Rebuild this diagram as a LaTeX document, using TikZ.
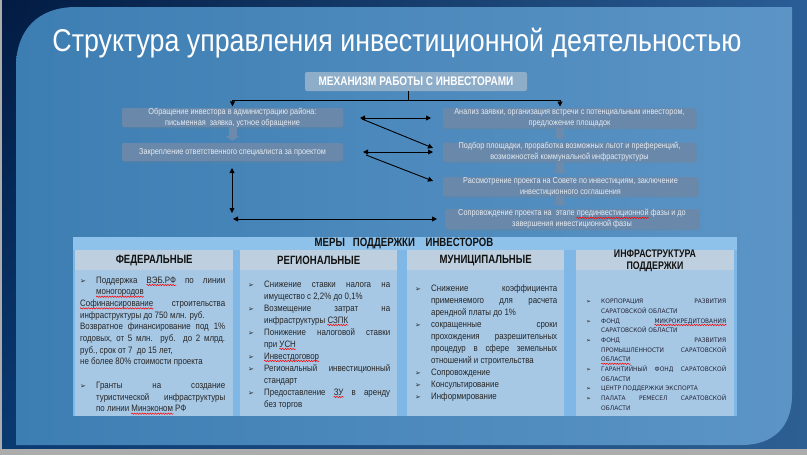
\documentclass[tikz,border=0pt]{standalone}
\usepackage{fontspec}
\setmainfont{Liberation Sans}
\newfontfamily\nar[FakeStretch=0.85]{Liberation Sans}
\newfontfamily\narb[FakeStretch=0.8]{Liberation Sans}
\newfontfamily\dv{DejaVu Sans}
\newfontfamily\dvn[FakeStretch=0.95]{DejaVu Sans}
\usetikzlibrary{arrows.meta,calc,shadows,shadings,decorations.pathmorphing}
\hyphenpenalty=10000
\exhyphenpenalty=10000
\tolerance=9999
\emergencystretch=10pt
\definecolor{outerTL}{HTML}{021B42}
\definecolor{outerTR}{HTML}{2A5E96}
\definecolor{outerBL}{HTML}{0A3A72}
\definecolor{outerBR}{HTML}{2E5F92}
\definecolor{panelL}{HTML}{3D7EB2}
\definecolor{panelM}{HTML}{6CA8D9}
\definecolor{panelR}{HTML}{5C94C6}
\definecolor{boxF}{HTML}{6A89AA}
\definecolor{boxT}{HTML}{E4EAF1}
\definecolor{topF}{HTML}{8DADC9}
\definecolor{bigP}{HTML}{7FB8E7}
\definecolor{bigTop}{HTML}{8EC2EA}
\definecolor{colF}{HTML}{A7C8E5}
\definecolor{hdrF}{HTML}{BED0DF}
\definecolor{txt}{HTML}{262626}
\definecolor{hdrT}{HTML}{111111}
\definecolor{garr}{HTML}{6B8AAC}
\definecolor{infT}{HTML}{23263A}
\newcommand\sq[1]{\tikz[x=1pt,y=1pt,baseline=0pt]{\node[inner sep=0pt, anchor=base west] (sqw) at (0,0) {#1};
  \draw[overlay, red, line width=0.5pt, decorate, decoration={snake, amplitude=0.7pt, segment length=2.6pt}]
  ($(sqw.base west)+(0,-2pt)$) -- ($(sqw.base east)+(0,-2pt)$);}}
\newcommand\bul[2]{\par\hangindent=#1\hangafter=1\noindent\makebox[#1][l]{\dv\fontsize{#2}{#2}\selectfont\color{txt}➢}}
\tikzset{
  proc/.style={fill=boxF, rounded corners=2pt, inner sep=0pt,
    drop shadow={opacity=0.25, shadow xshift=1pt, shadow yshift=-1.5pt}},
  proctext/.style={text=boxT, align=center, inner sep=0pt,
    font=\nar\fontsize{8.6}{10.8}\selectfont},
  topbox/.style={fill=topF, rounded corners=2pt, text=white, inner sep=0pt,
    font=\narb\bfseries\fontsize{12.5}{14}\selectfont},
  blk/.style={-{Triangle[length=5pt,width=5pt]}, line width=0.9pt, black},
  dblk/.style={{Triangle[length=5pt,width=5pt]}-{Triangle[length=5pt,width=5pt]}, line width=0.9pt, black},
  garrow/.style={draw=garr, line width=8pt, -{Triangle[length=5pt,width=14pt]}, shorten >=2pt},
  colbody/.style={fill=colF, inner sep=0pt, anchor=north west},
  colhdr/.style={fill=hdrF, inner sep=0pt, anchor=north west},
  hdrtext/.style={text=hdrT, align=center, inner sep=0pt,
    font=\narb\bfseries\fontsize{12}{12.5}\selectfont},
  bodytext/.style={inner sep=0pt, anchor=base west, text=txt}
}
\begin{document}
\begin{tikzpicture}[x=1pt,y=-1pt]
\useasboundingbox (0,0) rectangle (807,455);
% outer background
\shade[upper left=outerTL, upper right=outerTR, lower left=outerBL, lower right=outerBR]
  (0,0) rectangle (807,455);
\fill[gray!65] (0,449) rectangle (807,455);
\fill[gray!65] (0,0) rectangle (2,455);
% inner panel
\shade[left color=panelL, middle color=panelM, right color=panelR]
  (16,445) -- (16,67) .. controls (16,30) and (38,7) .. (76,7) -- (792,7) -- (792,395)
  .. controls (792,428) and (772,445) .. (742,445) -- cycle;

% title
\node[text=white, inner sep=0pt, font=\nar\fontsize{31.5}{36}\selectfont] (title) at (397,43)
  {Структура управления инвестиционной деятельностью};

% mechanism
\node[topbox, minimum width=222pt, minimum height=19pt] (top) at (416,81.5)
  {МЕХАНИЗМ РАБОТЫ С ИНВЕСТОРАМИ};

\node[proc, minimum width=221pt, minimum height=19pt] (L1) at (232.5,117.5) {};
\node[proctext] (L1t) at (L1.center) {Обращение инвестора в администрацию района:\\письменная~ заявка, устное обращение};
\node[proc, minimum width=221pt, minimum height=18pt] (L2) at (232.5,152) {};
\node[proctext] (L2t) at (L2.center) {Закрепление ответственного специалиста за проектом};
\node[proc, minimum width=253pt, minimum height=20pt] (R1) at (569.5,118) {};
\node[proctext] (R1t) at (R1.center) {Анализ заявки, организация встречи с потенциальным инвестором,\\предложение площадок};
\node[proc, minimum width=253pt, minimum height=19pt] (R2) at (569.5,152) {};
\node[proctext] (R2t) at (R2.center) {Подбор площадки, проработка возможных льгот и преференций,\\возможностей коммунальной инфраструктуры};
\node[proc, minimum width=255pt, minimum height=19pt] (R3) at (570.5,186.5) {};
\node[proctext] (R3t) at (R3.center) {Рассмотрение проекта на Совете по инвестициям, заключение\\инвестиционного соглашения};
\node[proc, minimum width=254pt, minimum height=20pt] (R4) at (572,219) {};
\node[proctext] (R4t) at (R4.center) {Сопровождение проекта на~ этапе \sq{прединвестиционной} фазы и до\\завершения инвестиционной фазы};

% gray block arrows
\draw[garrow] (L1.south) -- (L2.north);
\draw[garrow] (R1.south -| 560,0) -- (R2.north -| 560,0);
\draw[garrow] (R2.south -| 560,0) -- (R3.north -| 560,0);
\draw[garrow] (R3.south -| 560,0) -- (R4.north -| 560,0);

% top connectors
\coordinate (tj) at (408,100);
\coordinate (rj) at (560,108);
\draw[line width=0.9pt] (tj |- top.south) -- (tj);
\draw[blk, shorten >=1.5pt] (tj) -| (L1.north);
\draw[blk, shorten >=1.5pt] (tj) -| (rj);

% black arrows
\coordinate (a1l) at (360,118); \coordinate (a1r) at (431,118);
\coordinate (d1s) at (362,119); \coordinate (d1e) at (433,148);
\coordinate (a2l) at (363,152); \coordinate (a2r) at (433,152);
\coordinate (d2s) at (366,155); \coordinate (d2e) at (433,181);
\coordinate (vt) at (232,168);  \coordinate (vb) at (232,213);
\coordinate (hl) at (233,219);  \coordinate (hr) at (437,219);
\draw[dblk] (a1l) -- (a1r);
\draw[blk] (d1s) -- (d1e);
\draw[dblk] (a2l) -- (a2r);
\draw[blk] (d2s) -- (d2e);
\draw[dblk] (vt) -- (vb);
\draw[dblk] (hl) -- (hr);

% measures panel
\node[fill=bigP, inner sep=0pt, anchor=north west, minimum width=664pt, minimum height=179pt] (meas) at (73,237) {};
\fill[bigTop] (meas.north west) rectangle ($(meas.north east)+(0,13)$);
\node[hdrtext, font=\narb\bfseries\fontsize{12}{12}\selectfont] (meastitle) at (404,243.5)
  {МЕРЫ\ \ \ ПОДДЕРЖКИ\ \ \ \ ИНВЕСТОРОВ};

\foreach \n/\x/\w in {fed/75/158, reg/240/157, mun/407/157, inf/576/158}{
  \node[colbody, minimum width=\w pt, minimum height=166pt] (\n) at (\x,250) {};
  \node[colhdr, minimum width=\w pt, minimum height=20pt] (\n-h) at (\x,250) {};
}
\node[hdrtext] (fedt) at (fed-h.center) {ФЕДЕРАЛЬНЫЕ};
\node[hdrtext] (regt) at (reg-h.center) {РЕГИОНАЛЬНЫЕ};
\node[hdrtext] (munt) at (mun-h.center) {МУНИЦИПАЛЬНЫЕ};
\node[hdrtext, font=\narb\bfseries\fontsize{11}{12.5}\selectfont] (inft) at (655,261) {ИНФРАСТРУКТУРА\\ПОДДЕРЖКИ};

% federal text
\node[bodytext] (fedx) at (80,283) {\parbox[t]{145pt}{\nar\fontsize{9.3}{11.7}\selectfont
\bul{16pt}{7}Поддержка \sq{ВЭБ.РФ} по линии\linebreak \sq{моногородов}
\par\noindent\sq{Софинансирование} строительства\linebreak инфраструктуры до 750 млн. руб.
\par\noindent Возвратное финансирование под 1\%\linebreak годовых, от 5 млн. руб. до 2 млрд.\linebreak руб., срок от 7~ до 15 лет,\\ не более 80\% стоимости проекта
\par\vspace{11.7pt}
\bul{16pt}{7}Гранты на создание\linebreak туристической инфраструктуры\linebreak по линии \sq{Минэконом} РФ\par}};

% regional text
\node[bodytext] (regx) at (248,287) {\parbox[t]{142pt}{\nar\fontsize{9.3}{12}\selectfont
\bul{16pt}{7}Снижение ставки налога на\linebreak имущество с 2,2\% до 0,1\%
\bul{16pt}{7}Возмещение затрат на\linebreak инфраструктуры \sq{СЗПК}
\bul{16pt}{7}Понижение налоговой ставки\linebreak при \sq{УСН}
\bul{16pt}{7}\sq{Инвестдоговор}
\bul{16pt}{7}Региональный инвестиционный\linebreak стандарт
\bul{16pt}{7}Предоставление \sq{ЗУ} в аренду\linebreak без торгов\par}};

% municipal text
\node[bodytext] (munx) at (415,291) {\parbox[t]{142pt}{\nar\fontsize{9.3}{12}\selectfont
\bul{16pt}{7}Снижение коэффициента\linebreak применяемого для расчета\linebreak арендной платы до 1\%
\bul{16pt}{7}сокращенные сроки\linebreak прохождения разрешительных\linebreak процедур в сфере земельных\linebreak отношений и строительства
\bul{16pt}{7}Сопровождение
\bul{16pt}{7}Консультирование
\bul{16pt}{7}Информирование\par}};

% infrastructure text
\node[bodytext, text=infT] (infx) at (586,299) {\parbox[t]{140pt}{\dvn\fontsize{6.2}{9.7}\selectfont\color{infT}
\bul{15pt}{6}КОРПОРАЦИЯ РАЗВИТИЯ\linebreak САРАТОВСКОЙ ОБЛАСТИ
\bul{15pt}{6}ФОНД \sq{МИКРОКРЕДИТОВАНИЯ}\linebreak САРАТОВСКОЙ ОБЛАСТИ
\bul{15pt}{6}ФОНД РАЗВИТИЯ\linebreak ПРОМЫШЛЕННОСТИ САРАТОВСКОЙ\linebreak \sq{ОБЛАСТИ}
\bul{15pt}{6}ГАРАНТИЙНЫЙ ФОНД САРАТОВСКОЙ\linebreak ОБЛАСТИ
\bul{15pt}{6}ЦЕНТР ПОДДЕРЖКИ ЭКСПОРТА
\bul{15pt}{6}ПАЛАТА РЕМЕСЕЛ САРАТОВСКОЙ\linebreak ОБЛАСТИ\par}};
\end{tikzpicture}
\end{document}
